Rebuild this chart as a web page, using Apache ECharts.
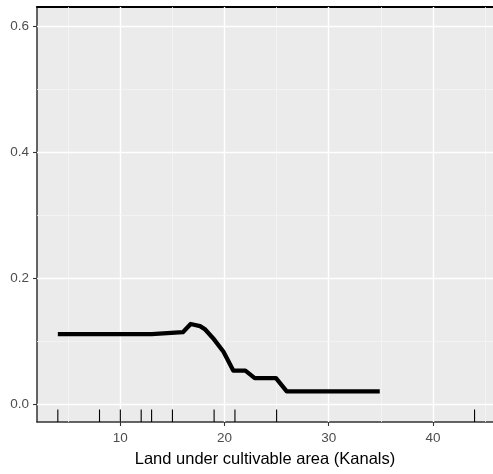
<!DOCTYPE html>
<html>
<head>
<meta charset="utf-8">
<script src="https://cdn.jsdelivr.net/npm/echarts@6/dist/echarts.min.js"></script>
<style>html,body{margin:0;padding:0;background:#fff}#c{width:493px;height:474px}</style>
</head>
<body>
<div id="c"></div>
<script>
// Partial dependence curve
const pdX = [4, 13, 13, 16.0, 16.75, 17.65, 18.1, 18.9, 19.9, 20.85, 22.0, 22.9, 24.94, 25.97, 34.9];
const pdY = [0.111, 0.111, 0.114, 0.114, 0.127, 0.1235, 0.119, 0.1045, 0.083, 0.053, 0.053, 0.041, 0.041, 0.020, 0.020];
// Rug (observed x values)
const rugX = [4, 8, 10, 12, 13, 15, 19, 21, 25, 44];
// Ticks and grid
const xTicks = [10, 20, 30, 40];
const xMinor = [5, 15, 25, 35, 45];
const yTicks = [0, 0.2, 0.4, 0.6];
const yMinor = [0.1, 0.3, 0.5];
const xRange = [2.0, 45.77];
const yRange = [-0.0285, 0.63];

const font = 'Liberation Sans, Arial, sans-serif';
const chart = echarts.init(document.getElementById('c'));

const major = {color: '#fff', width: 1.4, type: 'solid'};
const minor = {color: '#F5F5F5', width: 0.8, type: 'solid'};
const gridLines = [];
xTicks.forEach(v => gridLines.push({xAxis: v, lineStyle: major}));
xMinor.forEach(v => gridLines.push({xAxis: v, lineStyle: minor}));
yTicks.forEach(v => gridLines.push({yAxis: v, lineStyle: major}));
yMinor.forEach(v => gridLines.push({yAxis: v, lineStyle: minor}));

chart.setOption({
  animation: false,
  grid: {left: 37, top: 7, right: 0, bottom: 52, show: true, backgroundColor: '#EBEBEB', borderWidth: 0},
  xAxis: [{
    type: 'value', min: xRange[0], max: xRange[1],
    name: 'Land under cultivable area (Kanals)', nameLocation: 'middle', nameGap: 29,
    nameTextStyle: {color: '#000', fontSize: 16.5, fontFamily: font},
    axisLine: {show: true, onZero: false, lineStyle: {color: '#333', width: 1.5}},
    axisTick: {show: true, length: 4, customValues: xTicks, lineStyle: {color: '#333', width: 1.1}},
    axisLabel: {customValues: xTicks, color: '#4D4D4D', fontSize: 13.5, fontFamily: font, margin: 9},
    splitLine: {show: false}
  }, {
    type: 'value', min: xRange[0], max: xRange[1], position: 'top',
    axisLine: {show: true, onZero: false, lineStyle: {color: '#000', width: 2}},
    axisTick: {show: false}, axisLabel: {show: false}, splitLine: {show: false}
  }],
  yAxis: {
    type: 'value', min: yRange[0], max: yRange[1],
    axisLine: {show: true, onZero: false, lineStyle: {color: '#333', width: 1.5}},
    axisTick: {show: true, length: 4, customValues: yTicks, lineStyle: {color: '#333', width: 1.1}},
    axisLabel: {customValues: yTicks, color: '#4D4D4D', fontSize: 13.5, fontFamily: font, margin: 8,
      formatter: v => v.toFixed(1)},
    splitLine: {show: false}
  },
  series: [{
    type: 'line', data: [], z: 1, silent: true,
    markLine: {silent: true, z: 1, symbol: 'none', label: {show: false}, animation: false, data: gridLines}
  }, {
    type: 'custom', z: 3, silent: true,
    data: rugX.map(v => [v]),
    renderItem: function (params, api) {
      const p = api.coord([api.value(0), yRange[0]]);
      return {type: 'line', shape: {x1: p[0], y1: p[1], x2: p[0], y2: p[1] - 12.5},
        style: {stroke: '#000', lineWidth: 1.1}};
    }
  }, {
    type: 'line', z: 4, silent: true, symbol: 'none',
    data: pdX.map((x, i) => [x, pdY[i]]),
    lineStyle: {color: '#000', width: 4.3, join: 'round'}
  }]
});
</script>
</body>
</html>
